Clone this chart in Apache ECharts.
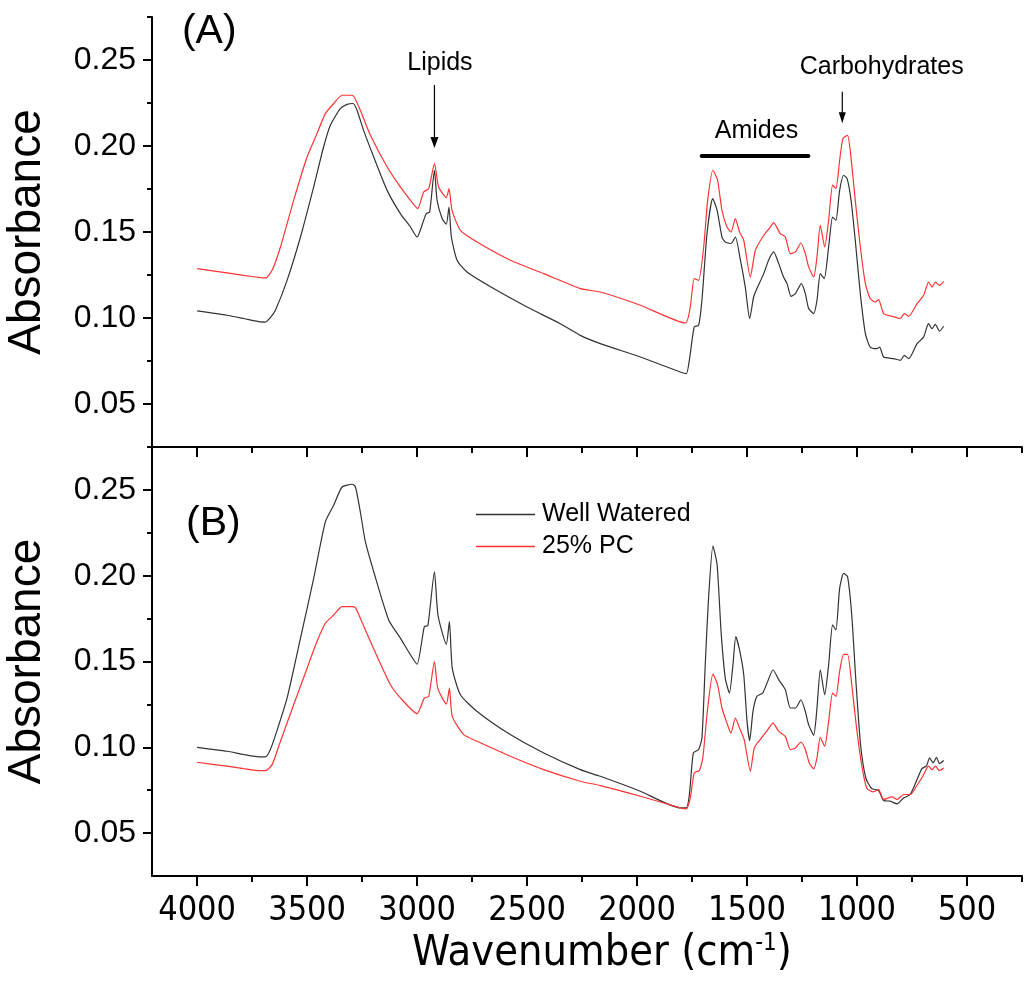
<!DOCTYPE html>
<html><head><meta charset="utf-8">
<script src="https://cdn.jsdelivr.net/npm/echarts@6/dist/echarts.min.js"></script>
<style>html,body{margin:0;padding:0;background:#fff}#c{width:1029px;height:984px}</style>
</head><body><div id="c"></div>
<script>
// ---- Panel A, Well Watered ----
const wnA_ww = [4000,3864,3788,3712,3689,3667,3644,3591,3530,3470,3425,3394,3349,3318,3291,3273,3243,3197,3136,3076,3030,3000,2970,2958,2943,2921,2909,2886,2867,2855,2844,2818,2773,2652,2500,2349,2258,2167,1985,1803,1776,1758,1740,1720,1705,1682,1656,1636,1614,1599,1573,1553,1530,1508,1488,1470,1455,1424,1402,1379,1356,1334,1318,1300,1280,1253,1235,1220,1197,1182,1167,1149,1129,1111,1096,1079,1061,1045,1027,1008,985,962,940,910,897,879,834,803,785,765,727,697,675,659,644,625,606];
const absA_ww = [0.1041,0.1016,0.0997,0.0977,0.0976,0.1002,0.1045,0.1219,0.1471,0.1762,0.1994,0.2120,0.2217,0.2242,0.2247,0.2208,0.2091,0.1936,0.1742,0.1607,0.1529,0.1471,0.1568,0.1607,0.1616,0.1859,0.1684,0.1578,0.1545,0.1645,0.1471,0.1336,0.1267,0.1171,0.1064,0.0967,0.0899,0.0851,0.0773,0.0686,0.0677,0.0793,0.0948,0.0958,0.1103,0.1490,0.1694,0.1626,0.1471,0.1442,0.1433,0.1471,0.1336,0.1180,0.0997,0.1122,0.1171,0.1258,0.1336,0.1384,0.1316,0.1238,0.1200,0.1126,0.1142,0.1200,0.1142,0.1055,0.1026,0.1103,0.1258,0.1229,0.1413,0.1587,0.1568,0.1742,0.1830,0.1810,0.1684,0.1452,0.1142,0.0909,0.0831,0.0822,0.0831,0.0773,0.0764,0.0754,0.0783,0.0764,0.0851,0.0890,0.0967,0.0938,0.0963,0.0924,0.0952];
// ---- Panel A, 25% PC ----
const wnA_pc = [4000,3864,3788,3712,3689,3659,3621,3561,3500,3455,3417,3379,3341,3303,3288,3258,3212,3136,3076,3030,2997,2970,2947,2921,2902,2867,2855,2841,2803,2727,2576,2424,2258,2167,1985,1780,1758,1740,1720,1697,1679,1655,1634,1614,1591,1573,1553,1534,1515,1485,1462,1424,1394,1379,1349,1326,1303,1280,1255,1235,1220,1197,1182,1167,1147,1129,1111,1096,1079,1064,1043,1027,1008,985,962,940,917,902,879,841,803,785,765,727,697,675,659,644,625,606];
const absA_pc = [0.1287,0.1262,0.1248,0.1235,0.1233,0.1277,0.1413,0.1684,0.1936,0.2072,0.2188,0.2247,0.2295,0.2295,0.2289,0.2208,0.2062,0.1878,0.1762,0.1684,0.1636,0.1733,0.1752,0.1898,0.1762,0.1700,0.1752,0.1626,0.1510,0.1442,0.1336,0.1258,0.1171,0.1151,0.1074,0.0971,0.1064,0.1229,0.1219,0.1413,0.1684,0.1859,0.1801,0.1626,0.1529,0.1500,0.1578,0.1500,0.1452,0.1238,0.1394,0.1481,0.1529,0.1555,0.1491,0.1471,0.1374,0.1384,0.1436,0.1374,0.1297,0.1238,0.1355,0.1539,0.1413,0.1568,0.1772,0.1752,0.1917,0.2043,0.2062,0.1927,0.1684,0.1413,0.1200,0.1113,0.1093,0.1107,0.1026,0.1010,0.0997,0.1026,0.1010,0.1084,0.1132,0.1209,0.1180,0.1209,0.1190,0.1213];
// ---- Panel B, Well Watered ----
const wnB_ww = [4000,3864,3788,3712,3689,3667,3638,3591,3530,3470,3417,3379,3341,3295,3280,3258,3235,3197,3129,3076,3030,3000,2967,2951,2921,2905,2867,2853,2840,2803,2727,2576,2424,2258,2167,1985,1803,1776,1762,1744,1720,1705,1690,1675,1655,1636,1618,1599,1580,1564,1551,1534,1515,1500,1488,1473,1455,1429,1409,1382,1356,1326,1303,1280,1255,1235,1220,1197,1182,1167,1147,1129,1111,1096,1079,1061,1043,1024,1005,984,960,934,902,879,849,818,788,758,727,705,685,670,654,639,625,606];
const absB_ww = [0.1000,0.0977,0.0958,0.0944,0.0944,0.0987,0.1093,0.1287,0.1636,0.1984,0.2314,0.2411,0.2517,0.2533,0.2517,0.2372,0.2198,0.2023,0.1742,0.1636,0.1539,0.1484,0.1703,0.1709,0.2023,0.1771,0.1600,0.1733,0.1461,0.1306,0.1209,0.1074,0.0967,0.0870,0.0831,0.0744,0.0647,0.0647,0.0725,0.0967,0.0987,0.1054,0.1481,0.1868,0.2174,0.2062,0.1674,0.1403,0.1316,0.1481,0.1645,0.1568,0.1423,0.1151,0.1039,0.1209,0.1297,0.1316,0.1374,0.1452,0.1394,0.1336,0.1229,0.1229,0.1277,0.1209,0.1132,0.1070,0.1229,0.1452,0.1306,0.1481,0.1713,0.1684,0.1926,0.2013,0.1994,0.1771,0.1384,0.1016,0.0821,0.0760,0.0748,0.0690,0.0686,0.0670,0.0705,0.0725,0.0812,0.0876,0.0890,0.0938,0.0909,0.0942,0.0905,0.0923];
// ---- Panel B, 25% PC ----
const wnB_pc = [4000,3864,3788,3712,3689,3659,3621,3561,3500,3455,3417,3379,3341,3295,3280,3258,3212,3121,3061,3000,2967,2947,2921,2906,2867,2853,2840,2788,2727,2576,2424,2258,2167,1985,1803,1776,1758,1740,1717,1701,1679,1655,1634,1614,1594,1573,1553,1534,1513,1485,1467,1440,1409,1382,1356,1326,1303,1280,1255,1235,1217,1197,1182,1167,1147,1129,1111,1096,1079,1061,1043,1024,1002,979,956,926,902,879,841,818,788,758,727,701,675,659,644,625,606];
const absB_pc = [0.0913,0.0890,0.0876,0.0864,0.0864,0.0899,0.1035,0.1248,0.1461,0.1616,0.1723,0.1771,0.1820,0.1820,0.1814,0.1752,0.1616,0.1365,0.1267,0.1196,0.1287,0.1297,0.1500,0.1345,0.1252,0.1345,0.1180,0.1074,0.1035,0.0948,0.0870,0.0802,0.0777,0.0715,0.0647,0.0641,0.0705,0.0851,0.0864,0.0938,0.1229,0.1426,0.1365,0.1229,0.1151,0.1083,0.1170,0.1112,0.1045,0.0860,0.0996,0.1045,0.1097,0.1141,0.1093,0.1064,0.0987,0.0996,0.1031,0.0987,0.0909,0.0874,0.0938,0.1058,0.1006,0.1151,0.1316,0.1297,0.1442,0.1542,0.1542,0.1365,0.1112,0.0899,0.0763,0.0740,0.0754,0.0696,0.0711,0.0696,0.0725,0.0725,0.0779,0.0831,0.0890,0.0870,0.0890,0.0864,0.0879];

const seriesNames = ['Well Watered', '25% PC'];
const seriesColors = ['#333333', '#ff3333'];
const xMajorTicks = [500,1000,1500,2000,2500,3000,3500,4000];
const xMinorTicks = [250,750,1250,1750,2250,2750,3250,3750];
const yMajorTicks = [0.05,0.10,0.15,0.20,0.25];
const yMinorTicks = [0.075,0.125,0.175,0.225,0.275];
const xRange = [250, 4205];
const yRange = [0.025, 0.275];

const FONT = "'Liberation Sans', Arial, sans-serif";
const NARROW = "'Liberation Sans Narrow', 'Arial Narrow', 'DejaVu Sans Condensed', sans-serif";

function pairs(wn, ab) { return wn.map((w, i) => [w, ab[i]]); }

const chart = echarts.init(document.getElementById('c'), null, {renderer: 'canvas'});
const grids = [
  {left: 152, top: 17, width: 870, height: 430, containLabel: false, outerBoundsMode: 'none'},
  {left: 152, top: 447, width: 870, height: 429, containLabel: false, outerBoundsMode: 'none'}
];
const axisLineStyle = {color: '#000', width: 2};

function xAxes(g) {
  const main = {
    type: 'value', gridIndex: g, position: 'bottom', inverse: true,
    min: xRange[0], max: xRange[1],
    axisLine: {show: true, onZero: false, lineStyle: axisLineStyle},
    axisTick: {show: true, inside: false, length: 10, customValues: xMajorTicks, lineStyle: axisLineStyle},
    axisLabel: {show: g === 1, customValues: xMajorTicks, formatter: v => String(v), fontSize: 34, fontFamily: NARROW, color: '#000', margin: 18},
    splitLine: {show: false}
  };
  if (g === 1) {
    main.name = 'Wavenumber (cm{sup|-1})';
    main.nameLocation = 'middle';
    main.nameGap = 56;
    main.nameTextStyle = {fontSize: 43, fontFamily: NARROW, color: '#000', padding: [0, 0, 0, 30],
      rich: {sup: {fontSize: 24, fontFamily: NARROW, color: '#000', verticalAlign: 'top', padding: [0, 0, 16, 0]}}};
  }
  const minor = {
    type: 'value', gridIndex: g, position: 'bottom', inverse: true,
    min: xRange[0], max: xRange[1],
    axisLine: {show: false, onZero: false},
    axisTick: {show: true, inside: false, length: 6, customValues: xMinorTicks, lineStyle: axisLineStyle},
    axisLabel: {show: false}, splitLine: {show: false}
  };
  return [main, minor];
}
function yAxes(g) {
  const main = {
    type: 'value', gridIndex: g, position: 'left', min: yRange[0], max: yRange[1],
    axisLine: {show: true, onZero: false, lineStyle: axisLineStyle},
    axisTick: {show: true, inside: false, length: 9, customValues: yMajorTicks, lineStyle: axisLineStyle},
    axisLabel: {customValues: yMajorTicks, formatter: v => v.toFixed(2), fontSize: 32, fontFamily: FONT, color: '#000', margin: 16},
    splitLine: {show: false},
    name: 'Absorbance', nameLocation: 'middle', nameGap: 102,
    nameTextStyle: {fontSize: 46, fontFamily: FONT, color: '#000'}
  };
  const minor = {
    type: 'value', gridIndex: g, position: 'left', min: yRange[0], max: yRange[1],
    axisLine: {show: false, onZero: false},
    axisTick: {show: true, inside: false, length: 5, customValues: yMinorTicks, lineStyle: axisLineStyle},
    axisLabel: {show: false}, splitLine: {show: false}
  };
  return [main, minor];
}

function mkSeries(name, color, data, g) {
  return {
    name: name, type: 'line', xAxisIndex: g * 2, yAxisIndex: g * 2, data: data,
    symbol: 'none', showSymbol: false, smooth: 0.2,
    lineStyle: {color: color, width: 1.2}, itemStyle: {color: color},
    emphasis: {disabled: true}, silent: true, animation: false
  };
}

chart.setOption({
  animation: false,
  backgroundColor: '#fff',
  grid: grids,
  xAxis: [...xAxes(0), ...xAxes(1)],
  yAxis: [...yAxes(0), ...yAxes(1)],
  legend: {
    data: seriesNames, orient: 'vertical', left: 471, top: 497,
    icon: 'rect', itemWidth: 59, itemHeight: 1.5, itemGap: 7,
    textStyle: {fontSize: 25, fontFamily: FONT, color: '#000', padding: [0, 0, 0, 2], lineHeight: 25},
    selectedMode: false
  },
  series: [
    mkSeries(seriesNames[0], seriesColors[0], pairs(wnA_ww, absA_ww), 0),
    mkSeries(seriesNames[1], seriesColors[1], pairs(wnA_pc, absA_pc), 0),
    mkSeries(seriesNames[0], seriesColors[0], pairs(wnB_ww, absB_ww), 1),
    mkSeries(seriesNames[1], seriesColors[1], pairs(wnB_pc, absB_pc), 1)
  ]
});

// ---- annotations, defined in data units ----
const panelLabels = [
  {text: '(A)', grid: 0, at: [4069, 0.2663]},
  {text: '(B)', grid: 1, at: [4050, 0.2301]}
];
const bandLabels = [
  {text: 'Lipids', at: [2896, 0.2481]},
  {text: 'Amides', at: [1457, 0.2087]},
  {text: 'Carbohydrates', at: [888, 0.2456]}
];
const arrows = [
  {from: [2921, 0.2355], to: [2921, 0.1988], half: 4},
  {from: [1067, 0.2316], to: [1067, 0.2132], half: 3.5}
];
const amidesBar = [[1706, 0.1942], [1221, 0.1942]];

function px(g, p) { return chart.convertToPixel({gridIndex: g}, p); }
const graphics = [];
panelLabels.forEach(l => {
  const p = px(l.grid, l.at);
  graphics.push({type: 'text', x: p[0], y: p[1], style: {text: l.text, fontSize: 41, fontFamily: FONT, fill: '#000', textAlign: 'left', textVerticalAlign: 'middle'}});
});
bandLabels.forEach(l => {
  const p = px(0, l.at);
  graphics.push({type: 'text', x: p[0], y: p[1], style: {text: l.text, fontSize: 25, fontFamily: FONT, fill: '#000', textAlign: 'center', textVerticalAlign: 'middle'}});
});
arrows.forEach(a => {
  const s = px(0, a.from), t = px(0, a.to);
  const head = 11;
  graphics.push({type: 'line', shape: {x1: s[0], y1: s[1], x2: t[0], y2: t[1] - head + 1}, style: {stroke: '#000', lineWidth: 1.2}});
  graphics.push({type: 'polygon', shape: {points: [[t[0] - a.half, t[1] - head], [t[0] + a.half, t[1] - head], [t[0], t[1]]]}, style: {fill: '#000'}});
});
{
  const a = px(0, amidesBar[0]), b = px(0, amidesBar[1]);
  graphics.push({type: 'line', shape: {x1: a[0], y1: a[1], x2: b[0], y2: b[1]}, style: {stroke: '#000', lineWidth: 4, lineCap: 'round'}});
}
chart.setOption({graphic: graphics});
</script>
</body></html>
